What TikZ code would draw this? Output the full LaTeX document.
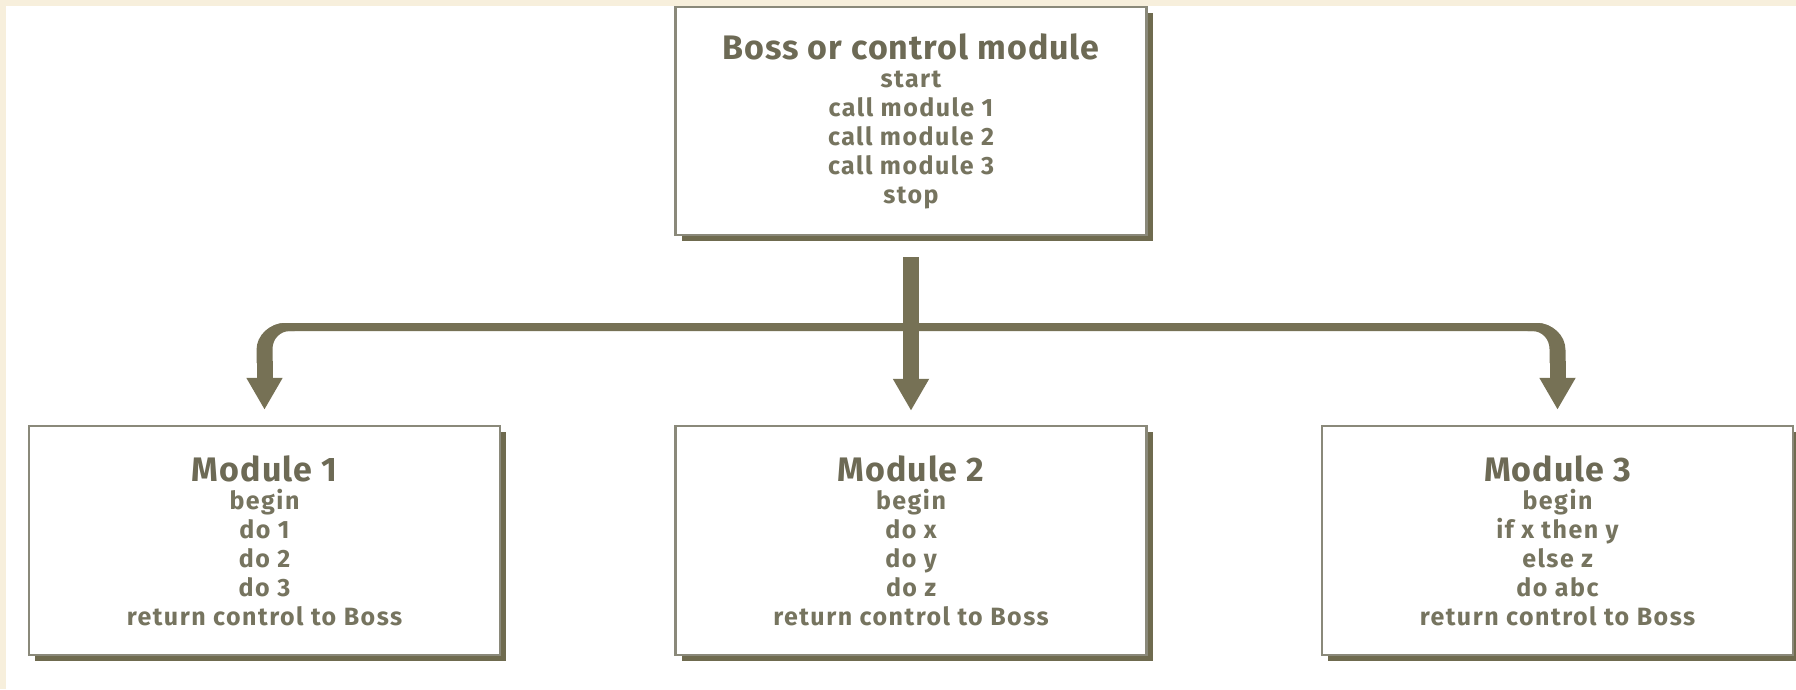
\documentclass[tikz,border=0pt]{standalone}
\usepackage{fontspec}
\setmainfont{Fira Sans}
\newfontfamily\bodyfont[LetterSpace=6]{Fira Sans}
\newfontfamily\headfont[LetterSpace=3]{Fira Sans}
\usetikzlibrary{arrows.meta,shadows,calc}

\definecolor{cream}{HTML}{F7EFDC}
\definecolor{olive}{HTML}{767155}
\definecolor{shade}{HTML}{6F6B4F}
\definecolor{rim}{HTML}{8A897A}
\definecolor{ink}{HTML}{76745F}
\definecolor{headink}{HTML}{6D6A55}

\newcommand{\boxtitle}[1]{{\headfont\bfseries\color{headink}\fontsize{34}{29}\selectfont #1}\\[-1pt]}

\begin{document}
\begin{tikzpicture}[x=1pt,y=-1pt,
  module/.style={draw=rim, line width=2.5pt, fill=white,
    minimum width=471pt, minimum height=228pt, inner sep=0pt,
    align=center, text=ink,
    font=\bodyfont\bfseries\fontsize{25}{29}\selectfont,
    drop shadow={shadow xshift=6pt, shadow yshift=-6pt, fill=shade, opacity=1}},
  bus/.style={draw=olive, line width=8pt, rounded corners=20pt},
  elbow/.style={fill=olive},
  shaft/.style={draw=olive, line width=16pt,
    -{Triangle[length=32pt,width=34pt]}}
]
  % page: cream frame on the top and left, white paper
  \useasboundingbox (0,0) rectangle (1796,689);
  \fill[cream] (0,0) rectangle (1796,689);
  \fill[white] (6,6) rectangle (1796,689);

  % boss module
  \node[module] (boss) at (911,121)
    {\boxtitle{Boss or control module}start\\call module 1\\call module 2\\call module 3\\stop};

  % called modules
  \node[module, minimum height=229pt] (m1) at (264.5,540.5)
    {\boxtitle{Module 1}begin\\do 1\\do 2\\do 3\\return control to Boss};
  \node[module, minimum height=229pt] (m2) at (911,540.5)
    {\boxtitle{Module 2}begin\\do x\\do y\\do z\\return control to Boss};
  \node[module, minimum height=229pt] (m3) at (1557.5,540.5)
    {\boxtitle{Module 3}begin\\if x then y\\else z\\do abc\\return control to Boss};

  % distribution bar from the boss to the outer modules
  \coordinate (hub) at (911,327);
  \coordinate (b1) at (m1.north |- 0,350);
  \coordinate (b3) at (m3.north |- 0,350);
  \draw[bus] (b1) |- (hub) -| (b3);

  % heavy elbows where the bar turns down into a shaft
  \foreach \m/\dir in {m1/1, m3/-1}
    \fill[elbow, shift={(\m.north |- hub)}, xscale=\dir]
      (-8,36) -- (-8,23) .. controls (-8,8) and (5.5,-4) .. (20.5,-4)
      -- (30,-4) -- (30,4) -- (25.5,4)
      .. controls (15.5,4) and (8,12) .. (8,22) -- (8,36) -- cycle;

  % arrow shafts down into each module
  \coordinate (s1) at (m1.north |- 0,361);
  \coordinate (s3) at (m3.north |- 0,361);
  \draw[shaft, shorten >=15pt] (s1) -- (m1.north);
  \draw[shaft, shorten >=15pt] (s3) -- (m3.north);
  \draw[shaft, shorten <=21pt, shorten >=14pt] (boss.south) -- (m2.north);
\end{tikzpicture}
\end{document}
